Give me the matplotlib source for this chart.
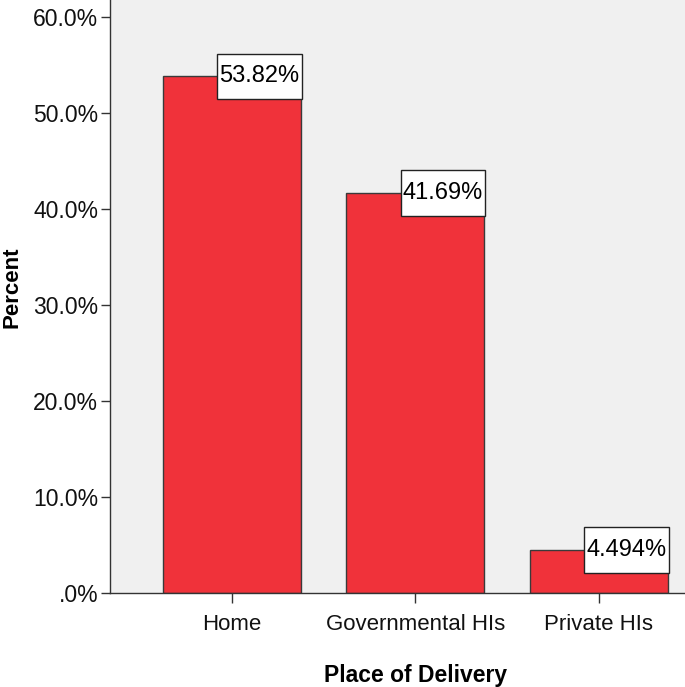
import matplotlib
matplotlib.use("Agg")
import matplotlib.pyplot as plt
from matplotlib import font_manager
from matplotlib.path import Path

categories = ["Home", "Governmental HIs", "Private HIs"]
percents = [53.82, 41.69, 4.494]
bar_labels = ["53.82%", "41.69%", "4.494%"]
yticks = [0, 10, 20, 30, 40, 50, 60]
ytick_labels = [".0%", "10.0%", "20.0%", "30.0%", "40.0%", "50.0%", "60.0%"]

names = {f.name for f in font_manager.fontManager.ttflist}
has_narrow = "Liberation Sans Narrow" in names
label_family = "Liberation Sans Narrow" if has_narrow else "Liberation Sans"
label_size = 20 if has_narrow else 17

plt.rcParams["font.family"] = ["Liberation Sans", "DejaVu Sans"]


def tall_box(x0, y0, width, height, mutation_size):
    # narrow horizontal padding, generous vertical padding (SPSS-like label box)
    px = 0.10 * mutation_size
    py = 0.50 * mutation_size
    x0, x1 = x0 - px, x0 + width + px
    y0, y1 = y0 - py, y0 + height + py
    return Path([(x0, y0), (x1, y0), (x1, y1), (x0, y1), (x0, y0)], closed=True)


W, H = 685, 687
fig = plt.figure(figsize=(W / 100, H / 100), dpi=100)
ax = fig.add_axes([110 / W, 94 / H, 1 - 110 / W, 1 - 94 / H])
ax.set_facecolor("#f0f0f0")

x = list(range(len(categories)))
ax.bar(x, percents, width=0.752, color="#f0323a", edgecolor="#3a3a3a", linewidth=1.0, zorder=2)

for xi, v, lab in zip(x, percents, bar_labels):
    ax.text(xi + 0.15, v, lab, ha="center", va="center", fontsize=label_size,
            family=[label_family, "DejaVu Sans"], color="black", zorder=3,
            bbox=dict(boxstyle=tall_box, facecolor="white", edgecolor="#222222", linewidth=1.0))

xlim = (-0.665, 2.469)
ax.set_xlim(*xlim)
ax.set_ylim(0, 61.77)
ax.set_yticks(yticks)
ax.set_yticklabels(ytick_labels)
ax.set_xticks(x)
ax.set_xticklabels(categories)

for s in ["top", "right"]:
    ax.spines[s].set_visible(False)
for s in ["left", "bottom"]:
    ax.spines[s].set_color("#333333")
    ax.spines[s].set_linewidth(1.0)

ax.tick_params(axis="y", length=6.5, width=1.0, color="#333333", pad=2, labelsize=16.5, labelcolor="#111111")
ax.tick_params(axis="x", length=7, width=1.0, color="#333333", pad=8, labelsize=16, labelcolor="#111111")

ax.set_ylabel("Percent", fontsize=16, fontweight="bold")
ax.yaxis.set_label_coords(-0.153, (593 - 287) / 593)
xfrac = (1 - xlim[0]) / (xlim[1] - xlim[0])
ax.set_xlabel("Place of Delivery", fontsize=16.5, fontweight="bold")
ax.xaxis.set_label_coords(xfrac, -0.12)

fig.savefig("out.png", dpi=100)
